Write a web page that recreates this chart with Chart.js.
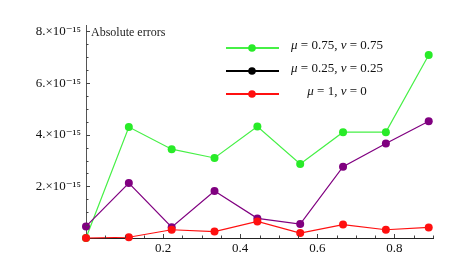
<!DOCTYPE html>
<html>
<head>
<meta charset="utf-8">
<script src="https://cdn.jsdelivr.net/npm/chart.js@4"></script>
<style>
  html, body { margin: 0; padding: 0; background: #fff; }
</style>
</head>
<body>
<canvas id="errChart" width="465" height="257"></canvas>
<script>
// Data (errors in units of 1e-15)
const xValues = [0, 1/9, 2/9, 3/9, 4/9, 5/9, 6/9, 7/9, 8/9];
const green = [0, 4.30, 3.44, 3.10, 4.32, 2.87, 4.10, 4.10, 7.09];
const purple = [0.45, 2.13, 0.42, 1.82, 0.76, 0.54, 2.76, 3.66, 4.52];
const red = [0, 0.03, 0.32, 0.25, 0.64, 0.19, 0.52, 0.32, 0.41];
const xTicks = [0.2, 0.4, 0.6, 0.8];
const yTicks = [2, 4, 6, 8];
const yTickLabels = ['2.\u00d710\u207b\u00b9\u2075', '4.\u00d710\u207b\u00b9\u2075', '6.\u00d710\u207b\u00b9\u2075', '8.\u00d710\u207b\u00b9\u2075'];
const legendLabels = [
    [['\u03bc', true], [' = 0.75, ', false], ['\u03bd', true], [' = 0.75', false]],
    [['\u03bc', true], [' = 0.25, ', false], ['\u03bd', true], [' = 0.25', false]],
    [['\u03bc', true], [' = 1, ', false], ['\u03bd', true], [' = 0', false]]
];

const colors = {
    green: 'rgb(40,235,40)',
    greenLine: 'rgb(70,240,70)',
    purple: '#800080',
    red: '#ff1010',
    black: '#000000'
};

const serif = '"Liberation Serif", "DejaVu Serif", serif';

const toPoints = (ys) => ys.map((y, i) => ({ x: xValues[i], y: y }));

// inner ticks, axis label and legend
const decorPlugin = {
    id: 'decor',
    afterDraw(chart) {
        const ctx = chart.ctx;
        const xs = chart.scales.x;
        const ys = chart.scales.y;
        const x0 = xs.getPixelForValue(0);
        const y0 = ys.getPixelForValue(0);
        ctx.save();
        ctx.strokeStyle = '#444';
        ctx.lineWidth = 1;
        ctx.beginPath();
        for (let k = 1; k <= 18; k++) {
            const v = k * 0.05;
            const px = Math.round(xs.getPixelForValue(v)) + 0.5;
            const len = k % 4 === 0 ? 4 : 2.5;
            ctx.moveTo(px, y0);
            ctx.lineTo(px, y0 - len);
        }
        for (let k = 1; k <= 16; k++) {
            const v = k * 0.5;
            const py = Math.round(ys.getPixelForValue(v)) + 0.5;
            const len = k % 4 === 0 ? 4 : 2.5;
            ctx.moveTo(x0, py);
            ctx.lineTo(x0 + len, py);
        }
        ctx.stroke();

        ctx.fillStyle = '#222';
        ctx.font = '12px ' + serif;
        ctx.textBaseline = 'middle';
        ctx.textAlign = 'left';
        ctx.fillText('Absolute errors', x0 + 5, ys.getPixelForValue(8) + 1);

        // legend
        const legendColors = [[colors.greenLine, colors.green], [colors.black, colors.black], [colors.red, colors.red]];
        const rowY = [48, 71, 94];
        legendLabels.forEach((parts, i) => {
            const y = rowY[i];
            ctx.strokeStyle = legendColors[i][0];
            ctx.lineWidth = 2;
            ctx.beginPath();
            ctx.moveTo(226, y);
            ctx.lineTo(279, y);
            ctx.stroke();
            ctx.fillStyle = legendColors[i][1];
            ctx.beginPath();
            ctx.arc(252, y, 3.8, 0, Math.PI * 2);
            ctx.fill();
            let total = 0;
            parts.forEach(([t, it]) => {
                ctx.font = (it ? 'italic ' : '') + '13px ' + serif;
                total += ctx.measureText(t).width;
            });
            let x = 337 - total / 2;
            ctx.fillStyle = '#111';
            parts.forEach(([t, it]) => {
                ctx.font = (it ? 'italic ' : '') + '13px ' + serif;
                ctx.fillText(t, x, y - 2);
                x += ctx.measureText(t).width;
            });
        });
        ctx.restore();
    }
};

const makeSet = (label, data, color, lineColor, order) => ({
    label: label,
    data: toPoints(data),
    borderColor: lineColor,
    backgroundColor: color,
    pointBackgroundColor: color,
    pointBorderWidth: 0,
    pointRadius: 4,
    borderWidth: 1.2,
    tension: 0,
    clip: false,
    order: order
});

const createErrChart = () => {
    const ctx = document.getElementById('errChart').getContext('2d');
    return new Chart(ctx, {
        type: 'line',
        data: {
            datasets: [
                makeSet('mu = 0.75, nu = 0.75', green, colors.green, colors.greenLine, 3),
                makeSet('mu = 0.25, nu = 0.25', purple, colors.purple, colors.purple, 2),
                makeSet('mu = 1, nu = 0', red, colors.red, colors.red, 1)
            ]
        },
        options: {
            responsive: false,
            animation: false,
            layout: { padding: { top: 25, right: 32, left: 0, bottom: 0 } },
            plugins: {
                legend: { display: false },
                tooltip: { enabled: false }
            },
            scales: {
                x: {
                    type: 'linear',
                    min: 0,
                    max: 0.9,
                    grid: { display: false, drawTicks: false, tickLength: 0 },
                    border: { display: true, color: '#222', width: 1 },
                    afterBuildTicks: (scale) => { scale.ticks = xTicks.map(v => ({ value: v })); },
                    afterFit: (scale) => { scale.height = 19; },
                    ticks: {
                        padding: 3,
                        color: '#111',
                        maxRotation: 0,
                        font: { family: serif, size: 13 },
                        callback: (v) => v.toFixed(1)
                    }
                },
                y: {
                    min: 0,
                    max: 8.25,
                    grid: { display: false, drawTicks: false, tickLength: 0 },
                    border: { display: true, color: '#555', width: 1 },
                    afterBuildTicks: (scale) => { scale.ticks = yTicks.map(v => ({ value: v })); },
                    afterFit: (scale) => { scale.width = 86; },
                    ticks: {
                        padding: 5,
                        color: '#111',
                        font: { family: serif, size: 13 },
                        callback: (v) => yTickLabels[yTicks.indexOf(v)]
                    }
                }
            }
        },
        plugins: [decorPlugin]
    });
};

document.addEventListener('DOMContentLoaded', () => {
    const errChart = createErrChart();
});
</script>
</body>
</html>
